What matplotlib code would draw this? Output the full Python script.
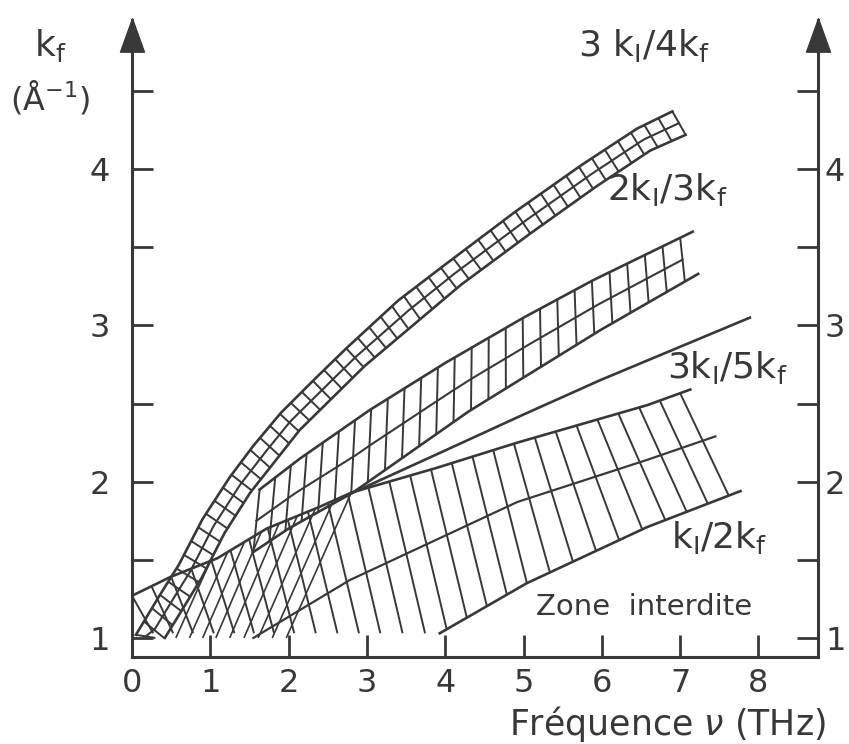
import numpy as np
import matplotlib.pyplot as plt
from matplotlib.collections import LineCollection
from matplotlib.path import Path

INK = "#383838"

# ============================================
# Data
# ============================================

x_ticks = [0, 1, 2, 3, 4, 5, 6, 7, 8]
y_ticks = [1, 1.5, 2, 2.5, 3, 3.5, 4, 4.5]
y_tick_labels = ["1", "", "2", "", "3", "", "4", ""]

# band 3kI/4kf
a_outer_x = [0.05, 0.35, 0.6, 0.9, 1.25, 1.55, 1.9, 2.36, 2.75, 3.4, 4.0, 4.9, 5.75, 6.45, 6.9]
a_outer_y = [1.02, 1.27, 1.47, 1.76, 2.03, 2.23, 2.44, 2.67, 2.86, 3.16, 3.39, 3.73, 4.03, 4.26, 4.37]
a_inner_x = [0.42, 0.64, 0.89, 1.18, 1.51, 2.14, 2.97, 4.20, 5.09, 5.93, 6.62, 7.07]
a_inner_y = [1.0, 1.18, 1.385, 1.67, 1.93, 2.33, 2.74, 3.26, 3.59, 3.89, 4.12, 4.22]
a_rungs_outer = [0.05, 0.6, 1.25, 1.9, 2.75, 4.0, 4.9, 5.75, 6.45, 6.9]
a_rungs_inner = [0.30, 0.89, 1.51, 2.14, 2.97, 4.20, 5.09, 5.93, 6.62, 7.07]

# band 2kI/3kf
b_upper_x = [1.63, 2.15, 3.04, 4.0, 5.0, 5.89, 7.16]
b_upper_y = [1.95, 2.15, 2.46, 2.76, 3.05, 3.29, 3.60]
b_lower_x = [1.55, 2.0, 2.82, 4.3, 5.98, 7.23]
b_lower_y = [1.55, 1.70, 1.93, 2.45, 2.97, 3.33]
b_rungs_upper = [1.63, 7.0]
b_rungs_lower = [1.55, 7.06]

# line 3kI/5kf
c_x = [2.82, 4.0, 5.0, 5.98, 7.89]
c_y = [1.93, 2.2, 2.43, 2.65, 3.05]

# band kI/2kf
d_upper_x = [0.0, 0.49, 1.09, 1.72, 2.40, 2.8, 3.90, 4.92, 6.58, 7.13]
d_upper_y = [1.27, 1.39, 1.51, 1.70, 1.84, 1.93, 2.09, 2.25, 2.49, 2.59]
d_mid_x = [1.55, 2.78, 4.92, 6.58, 7.45]
d_mid_y = [1.0, 1.37, 1.87, 2.14, 2.29]
d_lower_x = [3.93, 5.04, 6.58, 7.77]
d_lower_y = [1.03, 1.35, 1.71, 1.94]
d_rungs_upper = [0.0, 1.25, 3.46, 4.61, 6.2, 7.0]
d_rungs_lower = [0.27, 1.55, 3.93, 5.04, 6.8, 7.62]

# crossing strokes under the bands, lower left (top on kI/2kf edge, foot on k=1)
e_top_x = [1.0, 2.8]
e_foot_x = [0.56, 1.97]
e_foot_y = [1.0, 1.0]


# ============================================
# Helpers
# ============================================

def rung_lines(ax, ux, uy, lx, ly, rungs_u, rungs_l, n):
    # evenly spaced (in pixels) along the upper edge
    xx = np.linspace(rungs_u[0], rungs_u[-1], 600)
    yy = np.interp(xx, ux, uy)
    pts = ax.transData.transform(np.column_stack([xx, yy]))
    s = np.concatenate([[0], np.cumsum(np.hypot(*np.diff(pts, axis=0).T))])
    t = np.linspace(0, s[-1], n)
    xu = np.interp(t, s, xx)
    yu = np.interp(xu, ux, uy)
    xl = np.interp(xu, rungs_u, rungs_l)
    yl = np.interp(xl, lx, ly)
    return xu, yu, xl, yl


def draw_band(ax, ux, uy, lx, ly, rungs_u, rungs_l, n, middle=True, lw=1.4):
    xu, yu, xl, yl = rung_lines(ax, ux, uy, lx, ly, rungs_u, rungs_l, n)
    segs = [[(a, b), (c, d)] for a, b, c, d in zip(xu, yu, xl, yl)]
    ax.add_collection(LineCollection(segs, colors=INK, linewidths=lw))
    if middle:
        mu, mv, ml, mw = rung_lines(ax, ux, uy, lx, ly, rungs_u, rungs_l, 300)
        ax.plot((mu + ml) / 2, (mv + mw) / 2, color=INK, lw=1.5)


# ============================================
# Figure
# ============================================

fig = plt.figure(figsize=(8.49, 7.44), dpi=100)
ax = fig.add_axes([132 / 849, 87 / 744, 686 / 849, 637 / 744])
ax.set_xlim(0, 8.76)
ax.set_ylim(0.878, 4.955)

draw_band(ax, d_upper_x, d_upper_y, d_lower_x, d_lower_y, d_rungs_upper, d_rungs_lower, 28, middle=False)
ax.plot(d_upper_x, d_upper_y, color=INK, lw=1.9)
ax.plot(d_mid_x, d_mid_y, color=INK, lw=1.6)
ax.plot(d_lower_x, d_lower_y, color=INK, lw=1.9)

draw_band(ax, d_upper_x, d_upper_y, e_foot_x, e_foot_y, e_top_x, e_foot_x, 9, middle=False, lw=1.2)

draw_band(ax, a_outer_x, a_outer_y, a_inner_x, a_inner_y, a_rungs_outer, a_rungs_inner, 50)
ax.plot(a_outer_x, a_outer_y, color=INK, lw=1.9)
ax.plot(a_inner_x, a_inner_y, color=INK, lw=1.9)

draw_band(ax, b_upper_x, b_upper_y, b_lower_x, b_lower_y, b_rungs_upper, b_rungs_lower, 26)
ax.plot(b_upper_x, b_upper_y, color=INK, lw=1.9)
ax.plot(b_lower_x, b_lower_y, color=INK, lw=1.9)

ax.plot(c_x, c_y, color=INK, lw=1.9)

# axes frame
ax.spines["top"].set_visible(False)
for side in ["left", "right", "bottom"]:
    ax.spines[side].set_color(INK)
    ax.spines[side].set_linewidth(2.2)

ax.set_xticks(x_ticks)
ax.set_xticklabels([str(v) for v in x_ticks])
ax.set_yticks(y_ticks)
ax.set_yticklabels(y_tick_labels)
ax.tick_params(axis="x", direction="in", length=16, width=2, color=INK,
               labelsize=23, labelcolor=INK, pad=8)
ax.tick_params(axis="y", direction="in", length=15, width=2, color=INK,
               labelsize=23, labelcolor=INK, pad=16)

right = ax.secondary_yaxis("right")
right.set_yticks(y_ticks)
right.set_yticklabels(y_tick_labels)
right.spines["right"].set_visible(False)
right.tick_params(direction="in", length=15, width=2, color=INK,
                  labelsize=23, labelcolor=INK, pad=5)

# arrow heads on both vertical axes
tri = Path([(-0.36, -0.5), (0.36, -0.5), (0, 0.5), (-0.36, -0.5)],
           [Path.MOVETO, Path.LINETO, Path.LINETO, Path.CLOSEPOLY])
ax.plot([0, 8.76], [4.86, 4.86], ls="none", marker=tri, ms=24,
        color=INK, clip_on=False)

# labels
txt = dict(color=INK, fontsize=26, ha="center", va="center")
ax.text(6.54, 4.79, "3 k$_\\mathregular{I}$/4k$_\\mathregular{f}$", **txt)
ax.text(6.83, 3.87, "2k$_\\mathregular{I}$/3k$_\\mathregular{f}$", **txt)
ax.text(7.6, 2.73, "3k$_\\mathregular{I}$/5k$_\\mathregular{f}$", **txt)
ax.text(7.5, 1.64, "k$_\\mathregular{I}$/2k$_\\mathregular{f}$", **txt)
ax.text(6.54, 1.20, "Zone  interdite", color=INK, fontsize=21,
        ha="center", va="center")

fig.text(667 / 849, 1 - 724 / 744, "Fréquence $\\nu$ (THz)", color=INK,
         fontsize=25, ha="center", va="center")
fig.text(50 / 849, 1 - 46 / 744, "k$_\\mathregular{f}$", color=INK,
         fontsize=26, ha="center", va="center")
fig.text(50 / 849, 1 - 97 / 744, "(Å$^{-1}$)", color=INK,
         fontsize=23, ha="center", va="center")

fig.savefig("out.png", dpi=100, facecolor="white")
